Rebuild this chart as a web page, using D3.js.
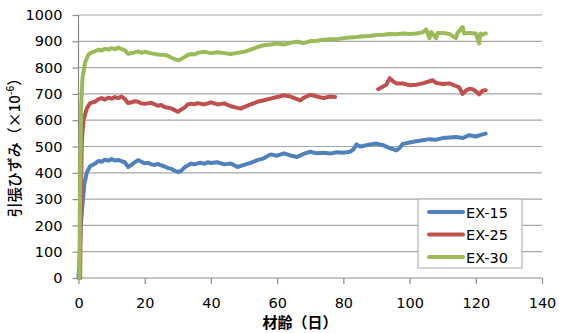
<!DOCTYPE html>
<html>
<head>
<meta charset="utf-8">
<script src="https://cdn.jsdelivr.net/npm/d3@7"></script>
<style>
  body { margin: 0; background: #fff; }
  .tick text { font-family: "DejaVu Sans", sans-serif; font-size: 14.5px; fill: #000; }
</style>
</head>
<body>
<script>
// tick values
var xTicks = [0, 20, 40, 60, 80, 100, 120, 140];
var yTicks = [0, 100, 200, 300, 400, 500, 600, 700, 800, 900, 1000];
var seriesNames = ["EX-15", "EX-25", "EX-30"];
var seriesColors = ["#4f81bd", "#c0504d", "#9bbb59"];

// [day, strain]
var ex15 = [[0,0],[0.3,60],[0.7,200],[1.2,280],[1.8,360],[2.5,400],[3.5,425],[5,435],[6,445],[7,442],[8,450],[9,446],
  [10,452],[11,447],[12,449],[13,444],[14,440],[15,422],[16,430],[17,440],[18,448],[19,442],[20,436],[21,438],
  [22,432],[23,430],[24,434],[25,428],[26,424],[27,418],[28,415],[29,408],[30,403],[31,407],[32,420],[33,428],
  [34,435],[35,432],[36,436],[37,438],[38,434],[39,440],[40,437],[42,440],[44,432],[46,435],[48,422],[50,430],
  [52,438],[54,448],[56,455],[58,470],[60,465],[62,474],[64,466],[66,460],[68,472],[70,480],[72,474],[74,476],
  [76,473],[78,478],[80,476],[82,480],[83,488],[84,508],[85,500],[86,502],[88,508],[90,511],[92,505],[94,494],
  [95,490],[96,485],[97,495],[98,510],[100,515],[102,520],[104,524],[106,528],[108,526],[110,532],[112,534],
  [114,536],[116,532],[118,543],[120,538],[122,546],[123,549]];

var ex25 = [[0.5,0],[0.7,300],[1,520],[1.5,600],[2.5,645],[3.5,665],[5,670],[6,680],[7,684],[8,678],[9,686],
  [10,682],[11,688],[12,684],[13,690],[14,680],[15,665],[16,668],[17,672],[18,670],[19,664],[20,662],[22,666],
  [24,655],[25,658],[26,650],[28,645],[30,632],[31,640],[32,648],[33,660],[34,663],[35,660],[36,665],[38,660],
  [40,668],[42,660],[44,664],[46,653],[48,647],[49,644],[50,650],[52,660],[54,670],[56,676],[58,682],[60,688],
  [62,695],[64,690],[66,680],[67,675],[68,685],[70,697],[72,690],[74,684],[76,690],[77.5,688],[78,null],
  [90.5,718],[92,728],[93,735],[94,760],[95,748],[96,740],[98,740],[100,733],[102,735],[104,740],[106,748],
  [107,752],[108,742],[110,738],[112,740],[114,730],[115,725],[116,700],[117,712],[118,720],[119,718],[120,710],
  [121,698],[122,712],[123,714]];

var ex30 = [[0.3,0],[0.5,350],[0.8,650],[1.2,760],[2,820],[3,850],[4,858],[5,862],[6,868],[7,865],[8,872],
  [9,868],[10,874],[11,870],[12,876],[13,870],[14,866],[15,852],[16,855],[17,858],[18,862],[19,856],[20,860],
  [22,854],[24,850],[26,848],[27,845],[28,838],[30,828],[31,832],[32,840],[33,848],[34,852],[35,850],[36,856],
  [38,860],[40,855],[42,858],[44,855],[46,852],[48,856],[50,860],[52,868],[54,878],[56,885],[58,888],[60,892],
  [62,888],[64,894],[66,898],[68,893],[70,900],[72,902],[74,906],[76,908],[78,908],[80,912],[82,914],[84,916],
  [86,919],[88,920],[90,924],[92,925],[94,928],[96,927],[98,930],[100,928],[102,930],[104,934],[105,945],
  [106,912],[106.5,935],[108,912],[108.5,932],[110,932],[112,928],[114,912],[114.5,932],[116,954],[116.5,930],
  [118,932],[120,930],[121,892],[121.4,930],[122,925],[123,930]];

var W = 563, H = 333;
var MARGIN = { top: 15, right: 21, bottom: 55, left: 78.5 };

var svg = d3.select("body").append("svg")
  .attr("width", W).attr("height", H);

var x = d3.scaleLinear().domain([0, 140]).range([MARGIN.left, W - MARGIN.right]);
var y = d3.scaleLinear().domain([0, 1000]).range([H - MARGIN.bottom, MARGIN.top]);

// grid
svg.append("g").selectAll("line")
  .data(yTicks.slice(1))
  .enter().append("line")
  .attr("x1", x(0)).attr("x2", x(140))
  .attr("y1", function(d){ return y(d); }).attr("y2", function(d){ return y(d); })
  .attr("stroke", "#a6a6a6").attr("stroke-width", 1.2);

// axes
var xAxis = svg.append("g")
  .attr("transform", "translate(0," + y(0) + ")")
  .call(d3.axisBottom(x).tickValues(xTicks).tickSize(6).tickPadding(14).tickFormat(d3.format("d")));
var yAxis = svg.append("g")
  .attr("transform", "translate(" + x(0) + ",0)")
  .call(d3.axisLeft(y).tickValues(yTicks).tickSize(6).tickPadding(10).tickFormat(d3.format("d")));
svg.selectAll(".domain").attr("stroke", "#8c8c8c").attr("stroke-width", 1.2);
svg.selectAll(".tick line").attr("stroke", "#8c8c8c").attr("stroke-width", 1.2);
yAxis.selectAll(".domain").attr("d", "M0," + y(0) + "V" + y(1000));
xAxis.selectAll(".domain").attr("d", "M" + x(0) + ",0H" + x(140));

// lines
var line = d3.line()
  .defined(function(d){ return d[1] != null; })
  .x(function(d){ return x(d[0]); })
  .y(function(d){ return y(d[1]); });

[ex15, ex25, ex30].forEach(function(s, i){
  svg.append("path")
    .datum(s)
    .attr("fill", "none")
    .attr("stroke", seriesColors[i])
    .attr("stroke-width", 4)
    .attr("stroke-linejoin", "round")
    .attr("stroke-linecap", "round")
    .attr("d", line);
});

// legend
var lg = svg.append("g").attr("transform", "translate(418,199)");
lg.append("rect").attr("width", 104).attr("height", 69)
  .attr("fill", "#fff").attr("stroke", "#a6a6a6").attr("stroke-width", 1);
seriesNames.forEach(function(n, i){
  var yy = 13 + i * 22.5;
  lg.append("line").attr("x1", 11).attr("x2", 45).attr("y1", yy).attr("y2", yy)
    .attr("stroke", seriesColors[i]).attr("stroke-width", 4).attr("stroke-linecap", "round");
  lg.append("text").attr("x", 48).attr("y", yy + 5.5)
    .attr("font-family", "DejaVu Sans, sans-serif").attr("font-size", 14.5)
    .text(n);
});

// axis titles
svg.append("text")
  .attr("x", 300).attr("y", 328)
  .attr("text-anchor", "middle")
  .attr("font-family", "Noto Sans CJK JP, sans-serif")
  .attr("font-size", 15).attr("font-weight", "bold")
  .text("材齢（日）");

var yt = svg.append("text")
  .attr("transform", "translate(20,144) rotate(-90)")
  .attr("text-anchor", "middle")
  .attr("font-family", "Noto Sans CJK JP, sans-serif")
  .attr("font-size", 15).attr("font-weight", 500);
yt.append("tspan").text("引張ひずみ（×10");
yt.append("tspan").attr("dy", -6).attr("font-size", 10).text("-6");
yt.append("tspan").attr("dy", 6).text("）");
</script>
</body>
</html>
